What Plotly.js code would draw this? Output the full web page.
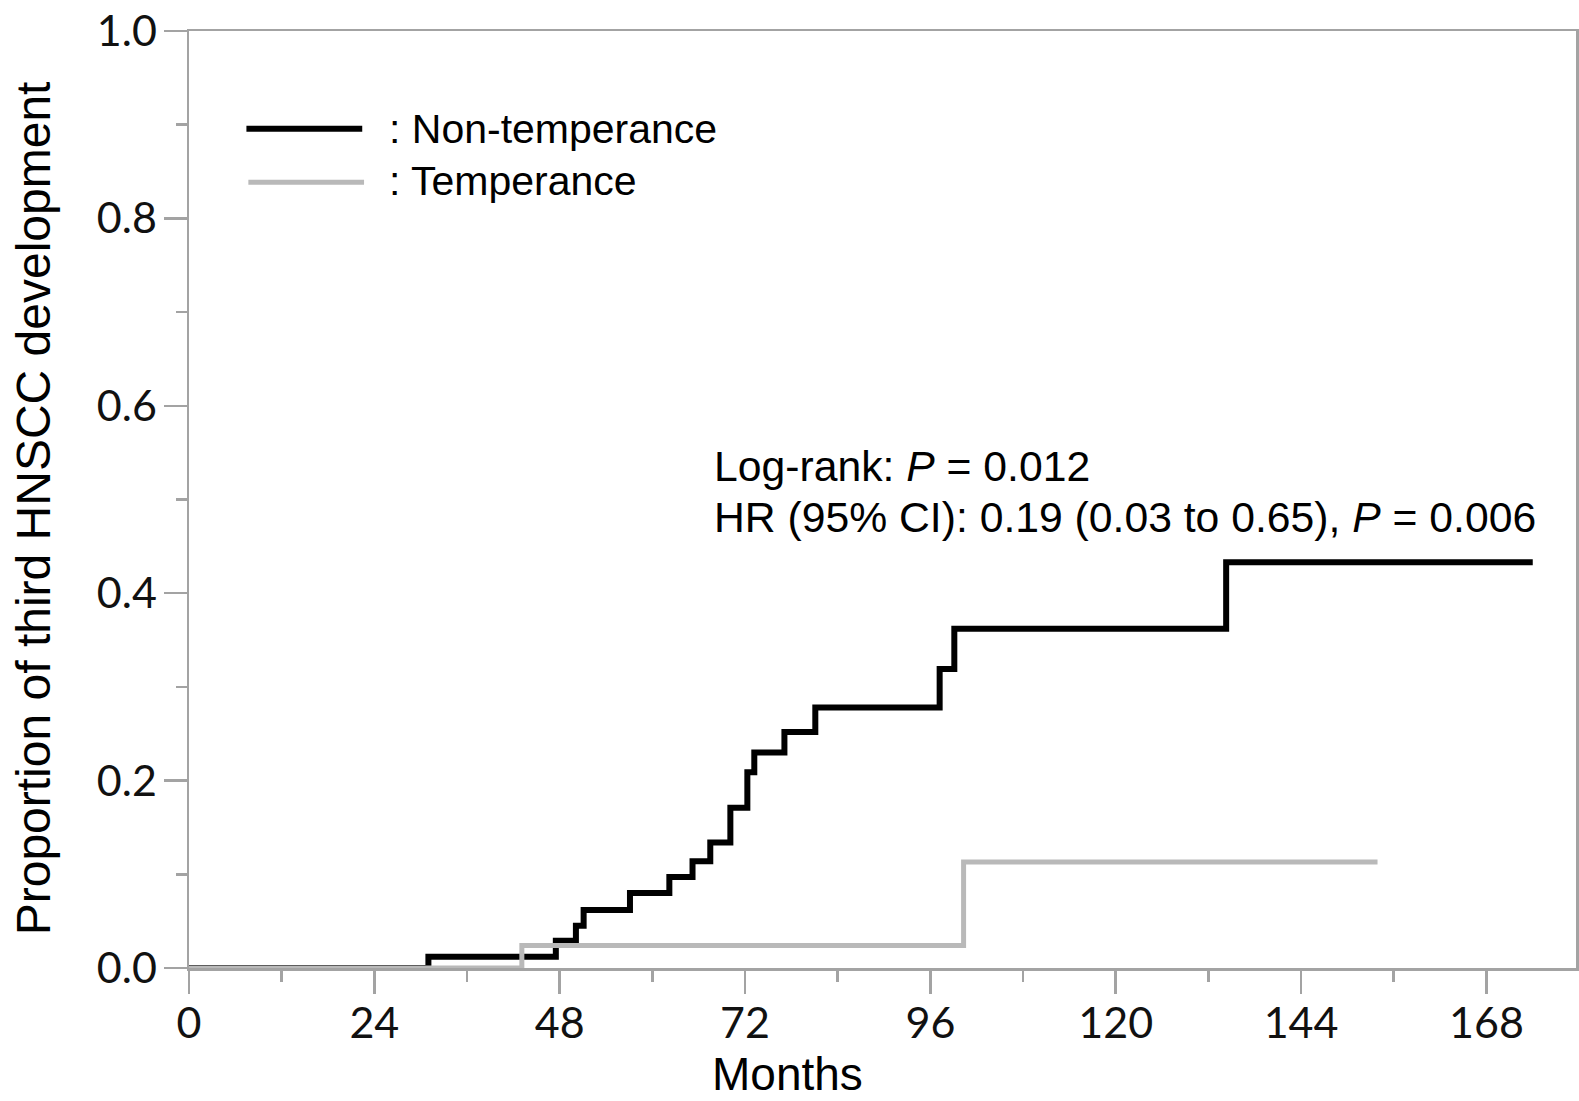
<!DOCTYPE html>
<html>
<head>
<meta charset="utf-8">
<script src="https://cdn.plot.ly/plotly-3.0.1.min.js"></script>
<style>html,body{margin:0;padding:0;background:#fff;}#chart{width:1579px;height:1101px;}</style>
</head>
<body>
<div id="chart"></div>
<script>
// Data (months, cumulative proportion)
const nonTempMonths = [0, 31.0, 47.5, 50.1, 51.1, 57.1, 62.2, 65.2, 67.5, 70.1, 72.3, 73.2, 77.1, 81.1, 97.2, 99.1, 134.3, 174.0];
const nonTempProp   = [0, 0.012, 0.029, 0.045, 0.062, 0.080, 0.097, 0.114, 0.134, 0.171, 0.209, 0.230, 0.252, 0.278, 0.319, 0.362, 0.433, 0.433];
const tempMonths = [0, 43.1, 100.3, 153.9];
const tempProp   = [0, 0.024, 0.113, 0.113];
const seriesNames = ['Non-temperance', 'Temperance'];
const xTickVals = [0, 24, 48, 72, 96, 120, 144, 168];
const yTickVals = [0.0, 0.2, 0.4, 0.6, 0.8, 1.0];
const yTickText = ['0.0', '0.2', '0.4', '0.6', '0.8', '1.0'];
const statLines = ['Log-rank: <i>P</i> = 0.012', 'HR (95% CI): 0.19 (0.03 to 0.65), <i>P</i> = 0.006'];

const axisColor = '#a3a3a3';
const blackCol = '#000000';
const grayCol = '#b9b9b9';
const arial = 'Liberation Sans, Arial, sans-serif';
const tickFont = {family: 'Lato, sans-serif', size: 43, color: '#111'};

const traces = [
  {x: nonTempMonths, y: nonTempProp, name: seriesNames[0], mode: 'lines', line: {shape: 'hv', color: blackCol, width: 6}},
  {x: tempMonths, y: tempProp, name: seriesNames[1], mode: 'lines', line: {shape: 'hv', color: grayCol, width: 5}}
];

const layout = {
  width: 1579, height: 1101,
  margin: {l: 189, r: 3, t: 31, b: 133},
  paper_bgcolor: '#fff', plot_bgcolor: '#fff',
  showlegend: false,
  xaxis: {
    range: [0, 179.6], tickvals: xTickVals, ticktext: xTickVals.map(String),
    showgrid: false, zeroline: false, showline: true, mirror: true,
    linecolor: axisColor, linewidth: 2.5,
    ticks: 'outside', ticklen: 23, tickwidth: 2.5, tickcolor: axisColor,
    minor: {dtick: 12, tick0: 0, ticks: 'outside', ticklen: 11, tickwidth: 2.5, tickcolor: axisColor, showgrid: false},
    tickfont: tickFont, ticklabelstandoff: -7
  },
  yaxis: {
    range: [0, 1], tickvals: yTickVals, ticktext: yTickText,
    showgrid: false, zeroline: false, showline: true, mirror: true,
    linecolor: axisColor, linewidth: 2.5,
    ticks: 'outside', ticklen: 23, tickwidth: 2.5, tickcolor: axisColor,
    minor: {dtick: 0.1, tick0: 0, ticks: 'outside', ticklen: 11, tickwidth: 2.5, tickcolor: axisColor, showgrid: false},
    tickfont: tickFont, ticklabelstandoff: -2
  },
  shapes: [
    {type: 'line', xref: 'paper', yref: 'paper', x0: 0.0414, x1: 0.1249, y0: 0.8957, y1: 0.8957, line: {color: blackCol, width: 6}},
    {type: 'line', xref: 'paper', yref: 'paper', x0: 0.0428, x1: 0.1262, y0: 0.8387, y1: 0.8387, line: {color: grayCol, width: 5}}
  ],
  annotations: [
    {xref: 'paper', yref: 'paper', x: 0.1431, y: 0.8957, xanchor: 'left', yanchor: 'middle', showarrow: false,
     text: ': ' + seriesNames[0], font: {family: arial, size: 41, color: '#000'}},
    {xref: 'paper', yref: 'paper', x: 0.1431, y: 0.8398, xanchor: 'left', yanchor: 'middle', showarrow: false,
     text: ': ' + seriesNames[1], font: {family: arial, size: 41, color: '#000'}},
    {xref: 'paper', yref: 'paper', x: 0.377, y: 0.5357, xanchor: 'left', yanchor: 'middle', showarrow: false,
     text: statLines[0], font: {family: arial, size: 42.7, color: '#000'}},
    {xref: 'paper', yref: 'paper', x: 0.377, y: 0.4813, xanchor: 'left', yanchor: 'middle', showarrow: false,
     text: statLines[1], font: {family: arial, size: 42.7, color: '#000'}},
    {xref: 'paper', yref: 'paper', x: 0.4315, y: -0.1135, xanchor: 'center', yanchor: 'middle', showarrow: false,
     text: 'Months', font: {family: arial, size: 46, color: '#000'}},
    {xref: 'paper', yref: 'paper', x: -0.1115, y: 0.4910, xanchor: 'center', yanchor: 'middle', showarrow: false, textangle: -90,
     text: 'Proportion of third HNSCC development', font: {family: arial, size: 48, color: '#000'}}
  ]
};

Plotly.newPlot('chart', traces, layout, {displayModeBar: false, staticPlot: true});
</script>
</body>
</html>
